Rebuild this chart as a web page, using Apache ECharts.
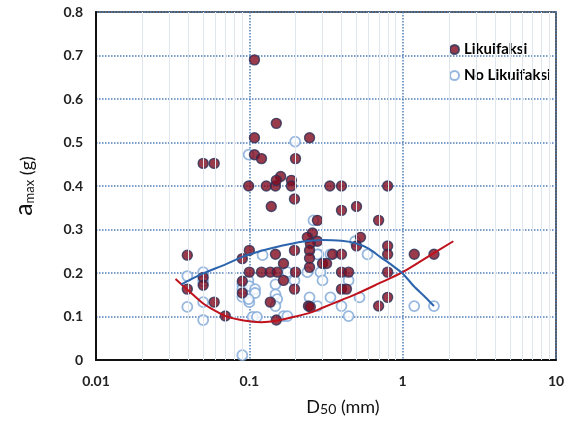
<!DOCTYPE html>
<html><head><meta charset="utf-8">
<script src="https://cdn.jsdelivr.net/npm/echarts@6/dist/echarts.min.js"></script>
<style>html,body{margin:0;padding:0;background:#fff}#c{width:572px;height:421px}</style>
</head><body><div id="c"></div><script>
// Likuifaksi (filled points) D50 (mm), amax (g)
const likX = [0.108,0.15,0.108,0.247,0.108,0.12,0.2,0.05,0.059,0.099,0.129,0.148,0.16,0.15,0.188,0.188,0.335,0.399,0.798,0.197,0.139,0.399,0.5,0.278,0.697,0.258,0.239,0.278,0.25,0.531,0.5,0.798,0.798,0.0394,0.1,0.09,0.148,0.167,0.197,0.247,0.247,0.247,0.349,0.399,0.3,0.319,0.1,0.12,0.137,0.152,0.2,0.399,0.444,0.798,0.05,0.05,0.0394,0.059,0.0697,0.09,0.09,0.167,0.197,0.399,0.43,0.137,0.15,0.243,0.25,0.798,0.697,1.19,1.6];
const likY = [0.69,0.544,0.511,0.511,0.472,0.463,0.463,0.452,0.452,0.40,0.40,0.40,0.422,0.413,0.413,0.40,0.40,0.40,0.40,0.37,0.353,0.344,0.353,0.321,0.321,0.292,0.282,0.273,0.268,0.282,0.262,0.262,0.243,0.241,0.252,0.233,0.243,0.222,0.252,0.252,0.234,0.213,0.243,0.243,0.222,0.222,0.202,0.202,0.202,0.202,0.202,0.202,0.202,0.202,0.19,0.172,0.163,0.133,0.101,0.181,0.154,0.183,0.163,0.163,0.163,0.133,0.092,0.124,0.122,0.144,0.124,0.243,0.243];
// No Likuifaksi (hollow points)
const noLikX = [0.099,0.199,0.262,0.49,0.122,0.282,0.59,0.338,0.177,0.239,0.291,0.197,0.3,0.444,0.0394,0.05,0.05,0.0394,0.05,0.05,0.09,0.09,0.09,0.0985,0.1,0.1,0.109,0.109,0.099,0.09,0.148,0.148,0.152,0.148,0.167,0.177,0.105,0.112,0.247,0.278,0.338,0.399,0.444,0.523,1.19,1.6,0.278];
const noLikY = [0.472,0.502,0.321,0.273,0.241,0.243,0.243,0.243,0.202,0.202,0.202,0.183,0.183,0.183,0.193,0.202,0.181,0.122,0.133,0.092,0.174,0.145,0.163,0.183,0.17,0.133,0.163,0.154,0.14,0.011,0.174,0.151,0.14,0.124,0.101,0.101,0.099,0.099,0.144,0.124,0.144,0.124,0.101,0.144,0.124,0.124,0.243];
// trend curves
const redX = [0.033,0.04,0.05,0.06,0.07,0.085,0.1,0.12,0.15,0.2,0.25,0.3,0.4,0.5,0.7,1.0,1.5,2.14];
const redY = [0.186,0.16,0.13,0.113,0.101,0.093,0.089,0.087,0.09,0.1,0.109,0.12,0.138,0.152,0.176,0.202,0.24,0.273];
const blueX = [0.036,0.05,0.07,0.09,0.12,0.16,0.22,0.3,0.4,0.5,0.6,0.72,0.85,1.0,1.18,1.4,1.6];
const blueY = [0.174,0.199,0.22,0.237,0.251,0.262,0.272,0.276,0.274,0.268,0.256,0.236,0.218,0.199,0.17,0.145,0.124];
const minorGridX = [0.02,0.03,0.04,0.05,0.06,0.07,0.08,0.09,0.2,0.3,0.4,0.5,0.6,0.7,0.8,0.9,2,3,4,5,6,7,8,9];
const xTickLabels = ['0.01','0.1','1','10'];
const yTickLabels = ['0','0.1','0.2','0.3','0.4','0.5','0.6','0.7','0.8'];

const pair = (xs, ys) => xs.map((x, i) => [x, ys[i]]);
const FONT = 'Lato';
const chart = echarts.init(document.getElementById('c'), null, {renderer: 'canvas'});
chart.setOption({
  animation: false,
  backgroundColor: '#fff',
  grid: {left: 96, right: 16, top: 12, bottom: 60, show: true, borderColor: '#222', borderWidth: 1.5, backgroundColor: 'transparent'},
  legend: {
    data: ['Likuifaksi', 'No Likuifaksi'], orient: 'vertical', left: 444, top: 37, itemGap: 11,
    itemWidth: 9, itemHeight: 9,
    textStyle: {fontFamily: FONT, fontSize: 15, fontWeight: 'bold', color: '#000'}
  },
  xAxis: {
    type: 'log', logBase: 10, min: 0.01, max: 10,
    name: '{sp|}{b|D}{s|50}{b| (mm)}', nameLocation: 'middle', nameGap: 38,
    nameTextStyle: {rich: {
      sp: {width: 34},
      b: {fontFamily: FONT, fontSize: 18, color: '#111'},
      s: {fontFamily: FONT, fontSize: 14, color: '#111', verticalAlign: 'bottom', padding: [4,0,0,0]}
    }},
    axisLine: {show: true, lineStyle: {color: '#111', width: 2}},
    axisTick: {show: false},
    axisLabel: {
      fontFamily: FONT, fontSize: 14, fontWeight: 'bold', color: '#222', margin: 14,
      formatter: v => { const i = Math.round(Math.log10(v)) + 2; return xTickLabels[i] || ''; }
    },
    splitLine: {show: true, lineStyle: {color: '#4f7db8', type: 'dotted', width: 1.5}},
    minorTick: {show: false}
  },
  yAxis: {
    type: 'value', min: 0, max: 0.8, interval: 0.1,
    name: '{a|a}{s|max}{n| (g)}', nameLocation: 'middle', nameGap: 60, nameRotate: 90,
    nameTextStyle: {rich: {
      a: {fontFamily: FONT, fontSize: 25, color: '#111', verticalAlign: 'bottom'},
      s: {fontFamily: FONT, fontSize: 13, color: '#111', verticalAlign: 'bottom'},
      n: {fontFamily: FONT, fontSize: 18, color: '#111', verticalAlign: 'bottom'}
    }},
    axisLine: {show: true, lineStyle: {color: '#111', width: 2}},
    axisTick: {show: false},
    axisLabel: {
      fontFamily: FONT, fontSize: 14, fontWeight: 'bold', color: '#222', margin: 13,
      formatter: v => yTickLabels[Math.round(v * 10)]
    },
    splitLine: {show: true, lineStyle: {color: '#4f7db8', type: 'dotted', width: 1.5}}
  },
  series: [
    {
      name: 'minor', type: 'line', data: [], silent: true, z: 1,
      markLine: {
        silent: true, symbol: 'none', animation: false,
        label: {show: false},
        lineStyle: {color: '#dfe6ee', width: 1, type: 'solid'},
        data: minorGridX.map(v => ({xAxis: v}))
      }
    },
    {
      name: 'No Likuifaksi', type: 'scatter', data: pair(noLikX, noLikY), z: 3,
      symbol: 'circle', symbolSize: 10,
      itemStyle: {color: '#ffffff', borderColor: '#7ea6d8', borderWidth: 1.8}
    },
    {
      name: 'Likuifaksi', type: 'scatter', data: pair(likX, likY), z: 4,
      symbol: 'circle', symbolSize: 10,
      itemStyle: {color: '#7f0a1e', borderColor: '#2a3158', borderWidth: 1.4}
    },
    {
      name: 'redCurve', type: 'line', data: pair(redX, redY), smooth: 0.3, showSymbol: false, z: 5,
      lineStyle: {color: '#c0121c', width: 2}
    },
    {
      name: 'blueCurve', type: 'line', data: pair(blueX, blueY), smooth: 0.3, showSymbol: false, z: 5,
      lineStyle: {color: '#2c65ad', width: 2}
    }
  ]
});
</script></body></html>
